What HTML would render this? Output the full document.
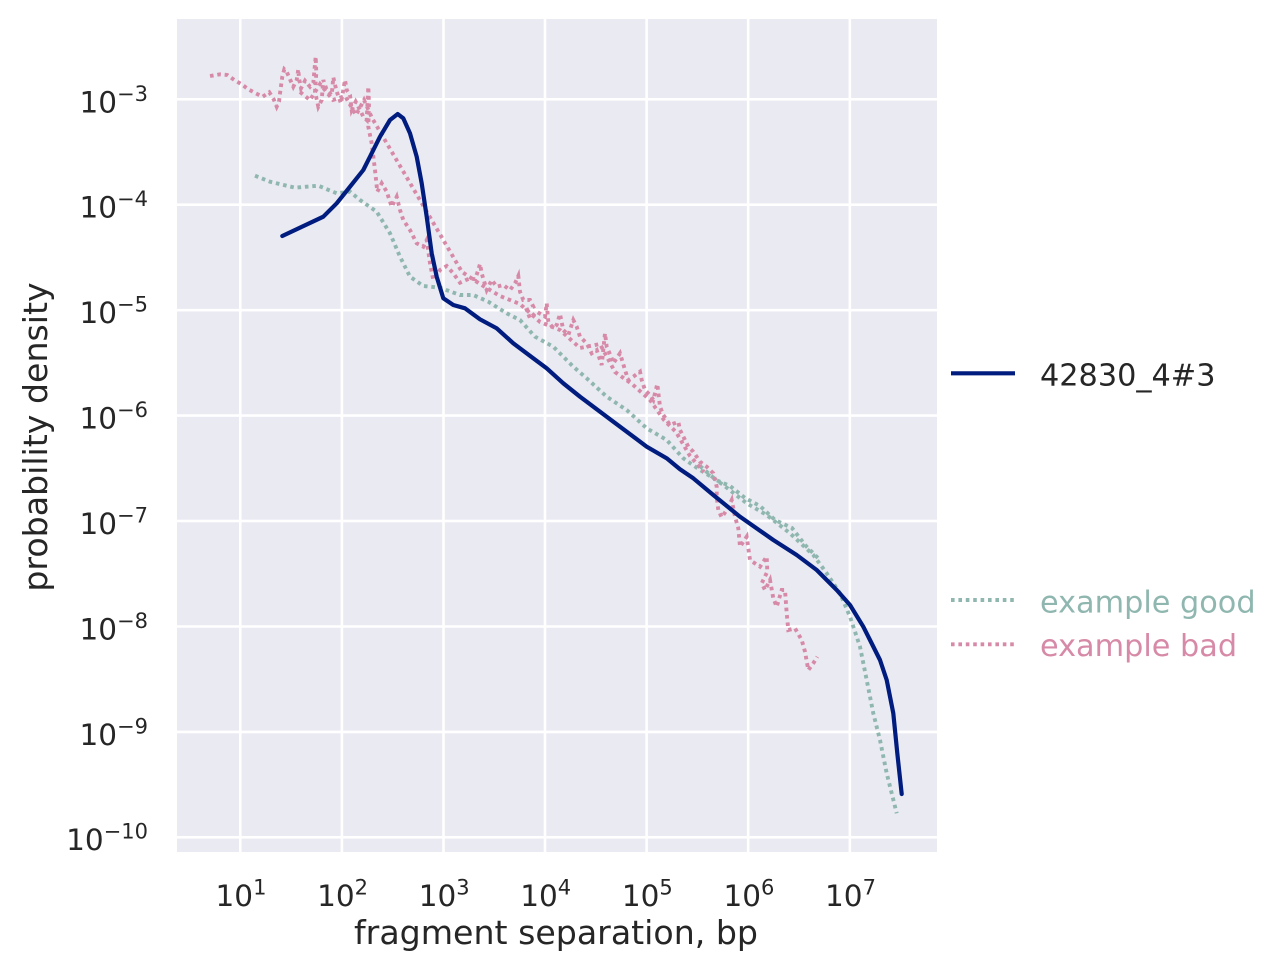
<!DOCTYPE html>
<html><head><meta charset="utf-8"><style>
html,body{margin:0;padding:0;background:#fff;}
svg{display:block;}
text{font-family:"DejaVu Sans","Liberation Sans",sans-serif;fill:#262626;}
</style></head><body>
<svg width="1283" height="976" viewBox="0 0 1283 976" xmlns="http://www.w3.org/2000/svg">
<rect x="177" y="19" width="760" height="833" fill="#eaeaf2"/>
<g stroke="#fff" stroke-width="2.6">
<line x1="240.3" y1="19" x2="240.3" y2="852"/>
<line x1="341.9" y1="19" x2="341.9" y2="852"/>
<line x1="443.5" y1="19" x2="443.5" y2="852"/>
<line x1="545.0" y1="19" x2="545.0" y2="852"/>
<line x1="646.6" y1="19" x2="646.6" y2="852"/>
<line x1="748.2" y1="19" x2="748.2" y2="852"/>
<line x1="849.8" y1="19" x2="849.8" y2="852"/>
<line x1="177" y1="99.3" x2="937" y2="99.3"/>
<line x1="177" y1="204.7" x2="937" y2="204.7"/>
<line x1="177" y1="310.2" x2="937" y2="310.2"/>
<line x1="177" y1="415.6" x2="937" y2="415.6"/>
<line x1="177" y1="521.0" x2="937" y2="521.0"/>
<line x1="177" y1="626.5" x2="937" y2="626.5"/>
<line x1="177" y1="731.9" x2="937" y2="731.9"/>
<line x1="177" y1="837.3" x2="937" y2="837.3"/>
</g>

<!-- teal example good -->
<polyline fill="none" stroke="#8fb7af" stroke-width="3.9" stroke-dasharray="3.6 3.8" points="
255,175.7 270,181.7 295,187.7 318.3,185.7 336.7,193.3 350,191.7 360,200 376.7,211.7 390,233.3 400,256.7 410,276.7 423.3,286 440,287.7 460,295 473.3,295 488.3,301.7
506.7,313.3 520,320 535,336.7 553.3,346.7 573.3,366.7 586.7,378.3 606.7,396.7 626.7,410 646.7,428.3 666.7,440 683.3,458.3 700,470 713.3,478 723.3,485 746.7,503.3 766.7,515 790,533.3 813.3,555 826.7,573.3 840,593.3 850,616.7 860,646.7 866.7,680 873.3,713.3 880,740 886.7,773.3 896.7,813.3"/>
<polyline fill="none" stroke="#8fb7af" stroke-width="3.9" stroke-dasharray="3.6 3.8" points="
700,466 716,480 730,486 745,498 760,506 775,520 792,528 806,546 820,560"/>

<!-- pink example bad -->
<polyline fill="none" stroke="#d78aa7" stroke-width="3.9" stroke-dasharray="3.6 3.8" points="
210,76 220,74.3 227.3,75 234.3,80 241.7,84.3 248.3,89.3 255.7,93.3 262.7,96.7 269.3,92.3 273.7,99.3 276.7,106.7 279,101.7 280,93.3 282.3,76.7 284.3,69.3 286.7,71.7 290,79.3 293.3,86.7 296.7,80 298.3,69.3 299,78.3 301,88.3 305,80.7 310,86.7 313.3,82.7 315.7,56.7 316.3,73.3 315,91.7 318.3,106.7 321.7,100 323.3,80 326.7,90 331.7,95 333.3,77.3 336.7,91.7 341,103.3 345,80 346.7,90 350,95 351.7,110 355.7,101.7 360,110 363.3,116.7 366.7,120 368.3,86.7 369,103.3 368.3,126.7 370,135 371.7,143.3 375,170 377.3,191.7 381.7,183.3 386.7,191.7 391.7,206.7 396.7,196.7 400,210 403.3,220 410,230 416.7,243.3 423.3,246.7 426.7,240 430,263.3 433.3,280 440,270 446.7,266 453.3,273.3 460,282.7 470,278.3 475,279.3 478.3,270 480,264 481.7,273.3 486.7,290 491.7,280 496.7,286.7 503.3,285 510,290 515,283.3 518.3,276 520,291.7 523.3,300 530,300 533.3,306.7 526.7,310 530,318.3 536.7,311.7 545,316.7 546.7,303.3 548.3,321.7 553.3,328.3 556.7,325 560,314 563.3,330 568.3,335 573.3,320 576.7,326.7 580,336.7 583.3,340 586.7,343.3 591.7,353.3 596.7,350 601.7,365 605,333.3 606.7,346.7 611.7,358.3 613.3,363.3 620,353.3 625,370 628.3,380 633.3,376.7 640,371.7 641.7,380 645,390 650,395 653.3,400 657.3,384 660,406.7 663.3,415 670,425 678.3,421.7 680,430 685,440 688.3,446.7 693.3,451.7 700,461.7 706.7,466.7 713.3,473.3 716.7,486.7 716.7,496.7 718.3,510 721.7,517.3 726.7,510 731.7,500 735,516.7 738.3,528.3 740,546.7 746.7,536.7 750,560 760,566.7 766.7,556.7 767.3,571.7 761.7,583.3 765,590 770,580 773.3,598.3 776.7,606.7 781.7,590 785,590 786.7,613.3 788.3,630 795,628.3 801.7,640 805,651.7 808.3,670 813.3,663.3 817.3,656.7"/>
<polyline fill="none" stroke="#d78aa7" stroke-width="3.9" stroke-dasharray="3.6 3.8" points="
300,92 310,100 320,84 333,100 345,96 356,115 364,100 372,118
462,272 480,284 500,296 520,304 540,322 560,330 580,348 600,344 615,372 632,384 650,400 664,420 676,432 690,456 704,472"/>

<!-- navy 42830_4#3 -->
<polyline fill="none" stroke="#001c7f" stroke-width="4.2" stroke-linejoin="round" stroke-linecap="round" points="
282.3,236 323.3,216.7 336.7,203.3 350,186.7 363.3,170 370,156.7 380,136.7 390,120 397.7,114 403.3,118.3 410,133.3 416.7,156.7 421.7,183.3 426.7,216.7 431.7,253.3 436.7,276.7 443.3,298.3 453.3,305 465,308.3 480,319.3 496.7,328.3 513.3,343.3 533.3,358.3 546.7,368.3 563.3,383.3 580,396.7 600,411.7 613.3,421.7 626.7,431.7 646.7,446.7 666.7,458.3 680,469.3 693.3,478.3 713.3,495 740,516.7 773.3,540 796.7,555 816.7,570 836.7,590 850,605 863.3,626.7 870,640 880,660 886.7,680 893.3,713.3 897.3,753.3 901.7,794"/>

<!-- x tick labels -->
<g font-size="29.5" text-anchor="middle">
<text x="241" y="906">10<tspan dy="-11.5" font-size="21">1</tspan></text>
<text x="342.6" y="906">10<tspan dy="-11.5" font-size="21">2</tspan></text>
<text x="444.2" y="906">10<tspan dy="-11.5" font-size="21">3</tspan></text>
<text x="545.7" y="906">10<tspan dy="-11.5" font-size="21">4</tspan></text>
<text x="647.3" y="906">10<tspan dy="-11.5" font-size="21">5</tspan></text>
<text x="748.9" y="906">10<tspan dy="-11.5" font-size="21">6</tspan></text>
<text x="850.5" y="906">10<tspan dy="-11.5" font-size="21">7</tspan></text>
</g>
<!-- y tick labels -->
<g font-size="29.5" text-anchor="end">
<text x="148" y="112.3">10<tspan dy="-11.5" font-size="21">−3</tspan></text>
<text x="148" y="217.7">10<tspan dy="-11.5" font-size="21">−4</tspan></text>
<text x="148" y="323.2">10<tspan dy="-11.5" font-size="21">−5</tspan></text>
<text x="148" y="428.6">10<tspan dy="-11.5" font-size="21">−6</tspan></text>
<text x="148" y="534">10<tspan dy="-11.5" font-size="21">−7</tspan></text>
<text x="148" y="639.5">10<tspan dy="-11.5" font-size="21">−8</tspan></text>
<text x="148" y="744.9">10<tspan dy="-11.5" font-size="21">−9</tspan></text>
<text x="148" y="849.8">10<tspan dy="-11.5" font-size="21">−10</tspan></text>
</g>

<text x="556" y="944" font-size="33.2" text-anchor="middle">fragment separation, bp</text>
<text transform="translate(47,437) rotate(-90)" font-size="33.2" text-anchor="middle">probability density</text>

<!-- legend -->
<line x1="951" y1="373.3" x2="1015" y2="373.3" stroke="#001c7f" stroke-width="4.2"/>
<text x="1040" y="385.5" font-size="30.3">42830_4#3</text>
<line x1="951" y1="600" x2="1015" y2="600" stroke="#8fb7af" stroke-width="3.9" stroke-dasharray="3.6 3.8"/>
<text x="1040" y="612.5" font-size="30.3" style="fill:#8fb7af">example good</text>
<line x1="951" y1="644.3" x2="1015" y2="644.3" stroke="#d78aa7" stroke-width="3.9" stroke-dasharray="3.6 3.8"/>
<text x="1040" y="656" font-size="30.3" style="fill:#d78aa7">example bad</text>
</svg>
</body></html>
